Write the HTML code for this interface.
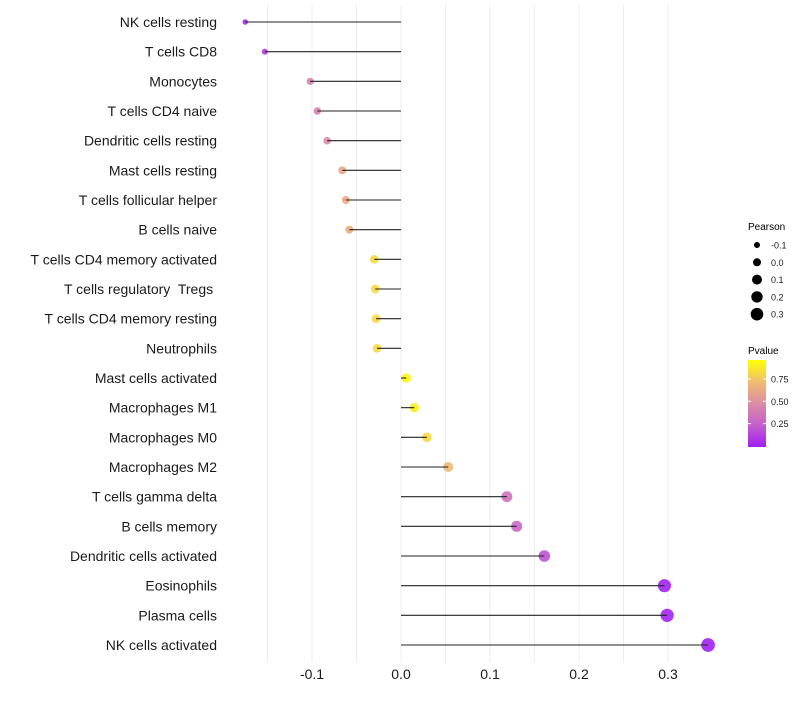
<!DOCTYPE html>
<html><head><meta charset="utf-8"><style>
body{margin:0;background:#fff;}
svg text{font-family:"Liberation Sans",sans-serif;white-space:pre;}
</style></head><body>
<svg id="chart" width="800" height="700" xmlns="http://www.w3.org/2000/svg">
<g id="grid"></g>
<g id="marks"></g>
<g id="ylab"></g>
<g id="xlab"></g>
<g id="legend"></g>
</svg>
<script>
const categories=["NK cells resting","T cells CD8","Monocytes","T cells CD4 naive","Dendritic cells resting","Mast cells resting","T cells follicular helper","B cells naive","T cells CD4 memory activated","T cells regulatory  Tregs ","T cells CD4 memory resting","Neutrophils","Mast cells activated","Macrophages M1","Macrophages M0","Macrophages M2","T cells gamma delta","B cells memory","Dendritic cells activated","Eosinophils","Plasma cells","NK cells activated"];
const pearson=[-0.175,-0.153,-0.102,-0.094,-0.083,-0.066,-0.062,-0.058,-0.030,-0.029,-0.028,-0.027,0.006,0.015,0.029,0.053,0.119,0.130,0.161,0.296,0.299,0.345];
const pvalue=[0.05,0.12,0.45,0.45,0.5,0.65,0.66,0.68,0.85,0.85,0.85,0.85,0.97,0.93,0.85,0.72,0.36,0.3,0.2,0.01,0.01,0.004];
const xTicks=[-0.1,0,0.1,0.2,0.3];
const xMinor=[-0.15,-0.05,0.05,0.15,0.25];
const sizeLegend=[-0.1,0,0.1,0.2,0.3];
const colorTicks=[0.25,0.5,0.75];
const NS="http://www.w3.org/2000/svg";
const x=v=>401+v*890;
const y=i=>22+i*29.667;
const r=v=>Math.sqrt(Math.max(2,21+76*v));
const stops=[[0,[160,32,240]],[0.25,[195,95,205]],[0.5,[220,140,165]],[0.75,[240,190,110]],[1,[255,255,0]]];
function col(p){for(let k=0;k<stops.length-1;k++){const a=stops[k],b=stops[k+1];if(p<=b[0]){const t=(p-a[0])/(b[0]-a[0]);const c=a[1].map((v,j)=>Math.round(v+(b[1][j]-v)*t));return`rgb(${c})`;}}return"rgb(255,255,0)";}
function el(tag,attrs,parent){const e=document.createElementNS(NS,tag);for(const k in attrs)e.setAttribute(k,attrs[k]);parent.appendChild(e);return e;}
const grid=document.getElementById('grid'),marks=document.getElementById('marks'),ylab=document.getElementById('ylab'),xlab=document.getElementById('xlab'),leg=document.getElementById('legend');
xMinor.concat(xTicks).forEach(v=>{const l=el('line',{x1:x(v),x2:x(v),y1:5,y2:662,stroke:'#ededed','stroke-width':1},grid);

});
categories.forEach((c,i)=>{
const t=el('text',{x:217,y:y(i)+5,'text-anchor':'end','font-size':14,fill:'#1a1a1a'},ylab);t.textContent=c;


const ci=el('circle',{cx:x(pearson[i]),cy:y(i),r:r(pearson[i]),fill:col(pvalue[i]),'fill-opacity':0.9},marks);


const ln=el('line',{x1:x(0),x2:x(pearson[i]),y1:y(i),y2:y(i),stroke:'#222','stroke-width':1.1},marks);


});
xTicks.forEach(v=>{const t=el('text',{x:x(v),y:679,'text-anchor':'middle','font-size':14,fill:'#1a1a1a'},xlab);t.textContent=(v===0?'0.0':String(v));

});
let t=el('text',{x:748,y:230,'font-size':10,fill:'#000'},leg);t.textContent='Pearson';


const lr=[3,4,5,5.7,6.3];
sizeLegend.forEach((v,k)=>{const cy=245+k*17.3;const c=el('circle',{cx:757,cy:cy,r:lr[k],fill:'#000'},leg);


const tt=el('text',{x:771,y:cy+3.5,'font-size':9,fill:'#1a1a1a'},leg);tt.textContent=v.toFixed(1);

});
t=el('text',{x:748,y:354,'font-size':10,fill:'#000'},leg);t.textContent='Pvalue';


const defs=el('defs',{},leg);const g=el('linearGradient',{id:'pg',x1:0,y1:1,x2:0,y2:0},defs);
stops.forEach(s=>el('stop',{offset:s[0],'stop-color':col(s[0])},g));
const bar=el('rect',{x:748,y:360,width:18,height:87,fill:'url(#pg)'},leg);


const cy=p=>446-p*89.5;
colorTicks.forEach(p=>{el('line',{x1:748,x2:751,y1:cy(p),y2:cy(p),stroke:'#fff'},leg);el('line',{x1:763,x2:766,y1:cy(p),y2:cy(p),stroke:'#fff'},leg);
const tt=el('text',{x:771,y:cy(p)+3.5,'font-size':9,fill:'#1a1a1a'},leg);tt.textContent=p.toFixed(2);

});
</script>
</body></html>
